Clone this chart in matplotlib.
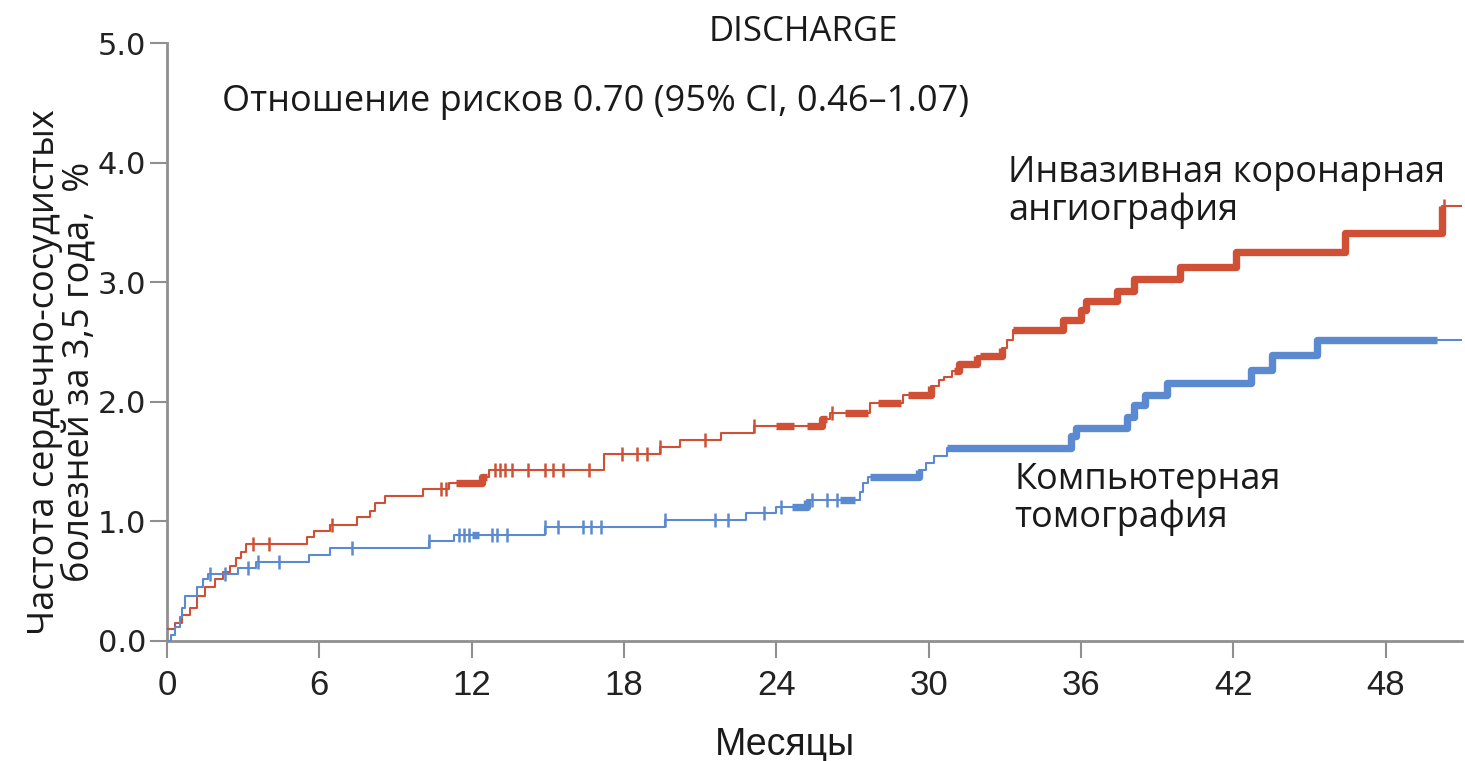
import matplotlib
matplotlib.use("Agg")
import matplotlib.pyplot as plt
import numpy as np

# Kaplan-Meier style cumulative event curves (months, %)
ica_times = [0.0, 0.3, 0.6, 0.9, 1.2, 1.5, 1.9, 2.2, 2.5, 2.7, 2.9, 3.1, 5.5, 5.8, 6.4,
             7.5, 8.0, 8.2, 8.6, 10.1, 11.1, 12.4, 12.7, 17.2, 19.4, 20.2, 21.8, 23.1,
             25.8, 26.1, 27.7, 29.0, 30.1, 30.4, 30.6, 30.9, 31.2, 31.9, 32.9, 33.1,
             33.3, 35.3, 36.0, 36.2, 37.4, 38.1, 39.9, 42.1, 46.4, 50.2]
ica_values = [0.10, 0.15, 0.22, 0.28, 0.38, 0.45, 0.52, 0.58, 0.63, 0.69, 0.74, 0.81, 0.87,
              0.92, 0.97, 1.04, 1.09, 1.15, 1.21, 1.27, 1.32, 1.37, 1.43, 1.56, 1.62, 1.68,
              1.74, 1.80, 1.86, 1.91, 1.99, 2.06, 2.13, 2.18, 2.21, 2.26, 2.32, 2.38, 2.45,
              2.52, 2.60, 2.68, 2.77, 2.84, 2.93, 3.03, 3.13, 3.25, 3.41, 3.64]

ct_times = [0.0, 0.15, 0.3, 0.5, 0.6, 0.7, 1.2, 1.4, 1.6, 2.8, 3.5, 5.6, 6.4, 10.3, 11.3,
            14.9, 19.6, 22.8, 24.0, 25.2, 27.3, 27.4, 27.6, 29.6, 29.9, 30.2, 30.7, 35.6,
            35.8, 37.8, 38.1, 38.5, 39.4, 42.7, 43.5, 45.3]
ct_values = [0.00, 0.05, 0.12, 0.20, 0.28, 0.38, 0.45, 0.52, 0.56, 0.61, 0.66, 0.72, 0.78,
             0.84, 0.89, 0.95, 1.01, 1.07, 1.12, 1.18, 1.25, 1.32, 1.37, 1.43, 1.49, 1.55,
             1.61, 1.71, 1.78, 1.87, 1.97, 2.06, 2.16, 2.27, 2.39, 2.52]

# censored observations
ica_censor = [3.4, 4.0, 6.5, 10.8, 11.0, 12.9, 13.1, 13.3, 13.6, 14.2, 14.9, 15.2, 15.6,
              16.6, 17.9, 18.5, 18.9, 19.4, 21.2, 23.1, 26.2, 50.3]
ct_censor = [1.7, 2.3, 3.2, 3.6, 4.4, 7.3, 10.3, 11.5, 11.7, 11.9, 12.8, 13.0, 13.4, 14.9,
             15.4, 16.4, 16.7, 17.1, 19.6, 21.6, 22.1, 23.5, 24.2, 25.4, 26.0, 26.4]

# stretches with closely packed censoring marks
ica_dense = [(11.4, 12.6), (24.0, 24.7), (25.2, 26.0), (26.7, 27.6), (28.0, 28.9),
             (29.2, 30.1), (31.0, 31.9), (32.0, 32.9), (33.3, 50.2)]
ct_dense = [(12.0, 12.3), (24.6, 25.2), (26.5, 27.1), (27.7, 29.6), (30.7, 50.0)]

x_end = 51.0
x_ticks = [0, 6, 12, 18, 24, 30, 36, 42, 48]
y_ticks = [0.0, 1.0, 2.0, 3.0, 4.0, 5.0]

RED = "#cf5034"
BLUE = "#5b8ad0"
AXIS = "#8f8f8f"

fig = plt.figure(figsize=(14.65, 7.61), dpi=100)
ax = fig.add_axes([167 / 1465, 120 / 761, 1295 / 1465, 598 / 761])


def step_value(times, values, t):
    idx = np.searchsorted(times, t, side="right") - 1
    return values[max(idx, 0)]


def draw_curve(times, values, censor, dense, color):
    xs = list(times) + [x_end]
    ys = list(values) + [values[-1]]
    ax.step(xs, ys, where="post", color=color, lw=1.5, zorder=3, solid_capstyle="butt")
    for a, b in dense:
        seg_t = [a] + [t for t in times if a < t < b] + [b]
        seg_v = [step_value(times, values, t) for t in seg_t]
        ax.step(seg_t, seg_v, where="post", color=color, lw=5.3, zorder=3,
                solid_capstyle="butt")
    cy = [step_value(times, values, t) for t in censor]
    ax.plot(censor, cy, ls="none", marker="|", ms=10, mew=1.8, color=color, zorder=4)


draw_curve(ica_times, ica_values, ica_censor, ica_dense, RED)
draw_curve(ct_times, ct_values, ct_censor, ct_dense, BLUE)

ax.set_xlim(0, x_end)
ax.set_ylim(0, 5.0)
ax.set_xticks(x_ticks)
ax.set_yticks(y_ticks)
ax.set_yticklabels([f"{v:.1f}" for v in y_ticks], fontsize=22, family="DejaVu Sans",
                   color="#222222")
ax.set_xticklabels([str(v) for v in x_ticks], fontsize=25,
                   family=["Liberation Sans", "DejaVu Sans"], color="#222222")
for s in ("top", "right"):
    ax.spines[s].set_visible(False)
for s in ("left", "bottom"):
    ax.spines[s].set_color(AXIS)
    ax.spines[s].set_linewidth(2)
ax.tick_params(axis="both", direction="out", length=12, width=1.5, color=AXIS)
ax.tick_params(axis="y", pad=3)
ax.tick_params(axis="x", pad=8)
ax.set_facecolor("white")

txt = dict(family=["Open Sans", "DejaVu Sans"], color="#1a1a1a")
fig.text(803 / 1465, 1 - 32 / 761, "DISCHARGE", ha="center", va="center", fontsize=25, **txt)
fig.text(222 / 1465, 1 - 102 / 761, "Отношение рисков 0.70 (95% CI, 0.46–1.07)",
         ha="left", va="center", fontsize=26, **txt)
fig.text(1008 / 1465, 1 - 192 / 761, "Инвазивная коронарная\nангиография",
         ha="left", va="center", fontsize=26, linespacing=1.05, **txt)
fig.text(1014 / 1465, 1 - 499 / 761, "Компьютерная\nтомография",
         ha="left", va="center", fontsize=26, linespacing=1.05, **txt)
fig.text(62 / 1465, 1 - 372 / 761, "Частота сердечно-сосудистых\nболезней за 3,5 года,  %",
         ha="center", va="center", rotation=90, fontsize=26, linespacing=0.95,
         multialignment="center", **txt)
fig.text(785 / 1465, 1 - 745 / 761, "Месяцы", ha="center", va="center", fontsize=27,
         family=["Liberation Sans", "DejaVu Sans"], color="#1a1a1a")

fig.savefig("out.png", dpi=100, facecolor="white")
